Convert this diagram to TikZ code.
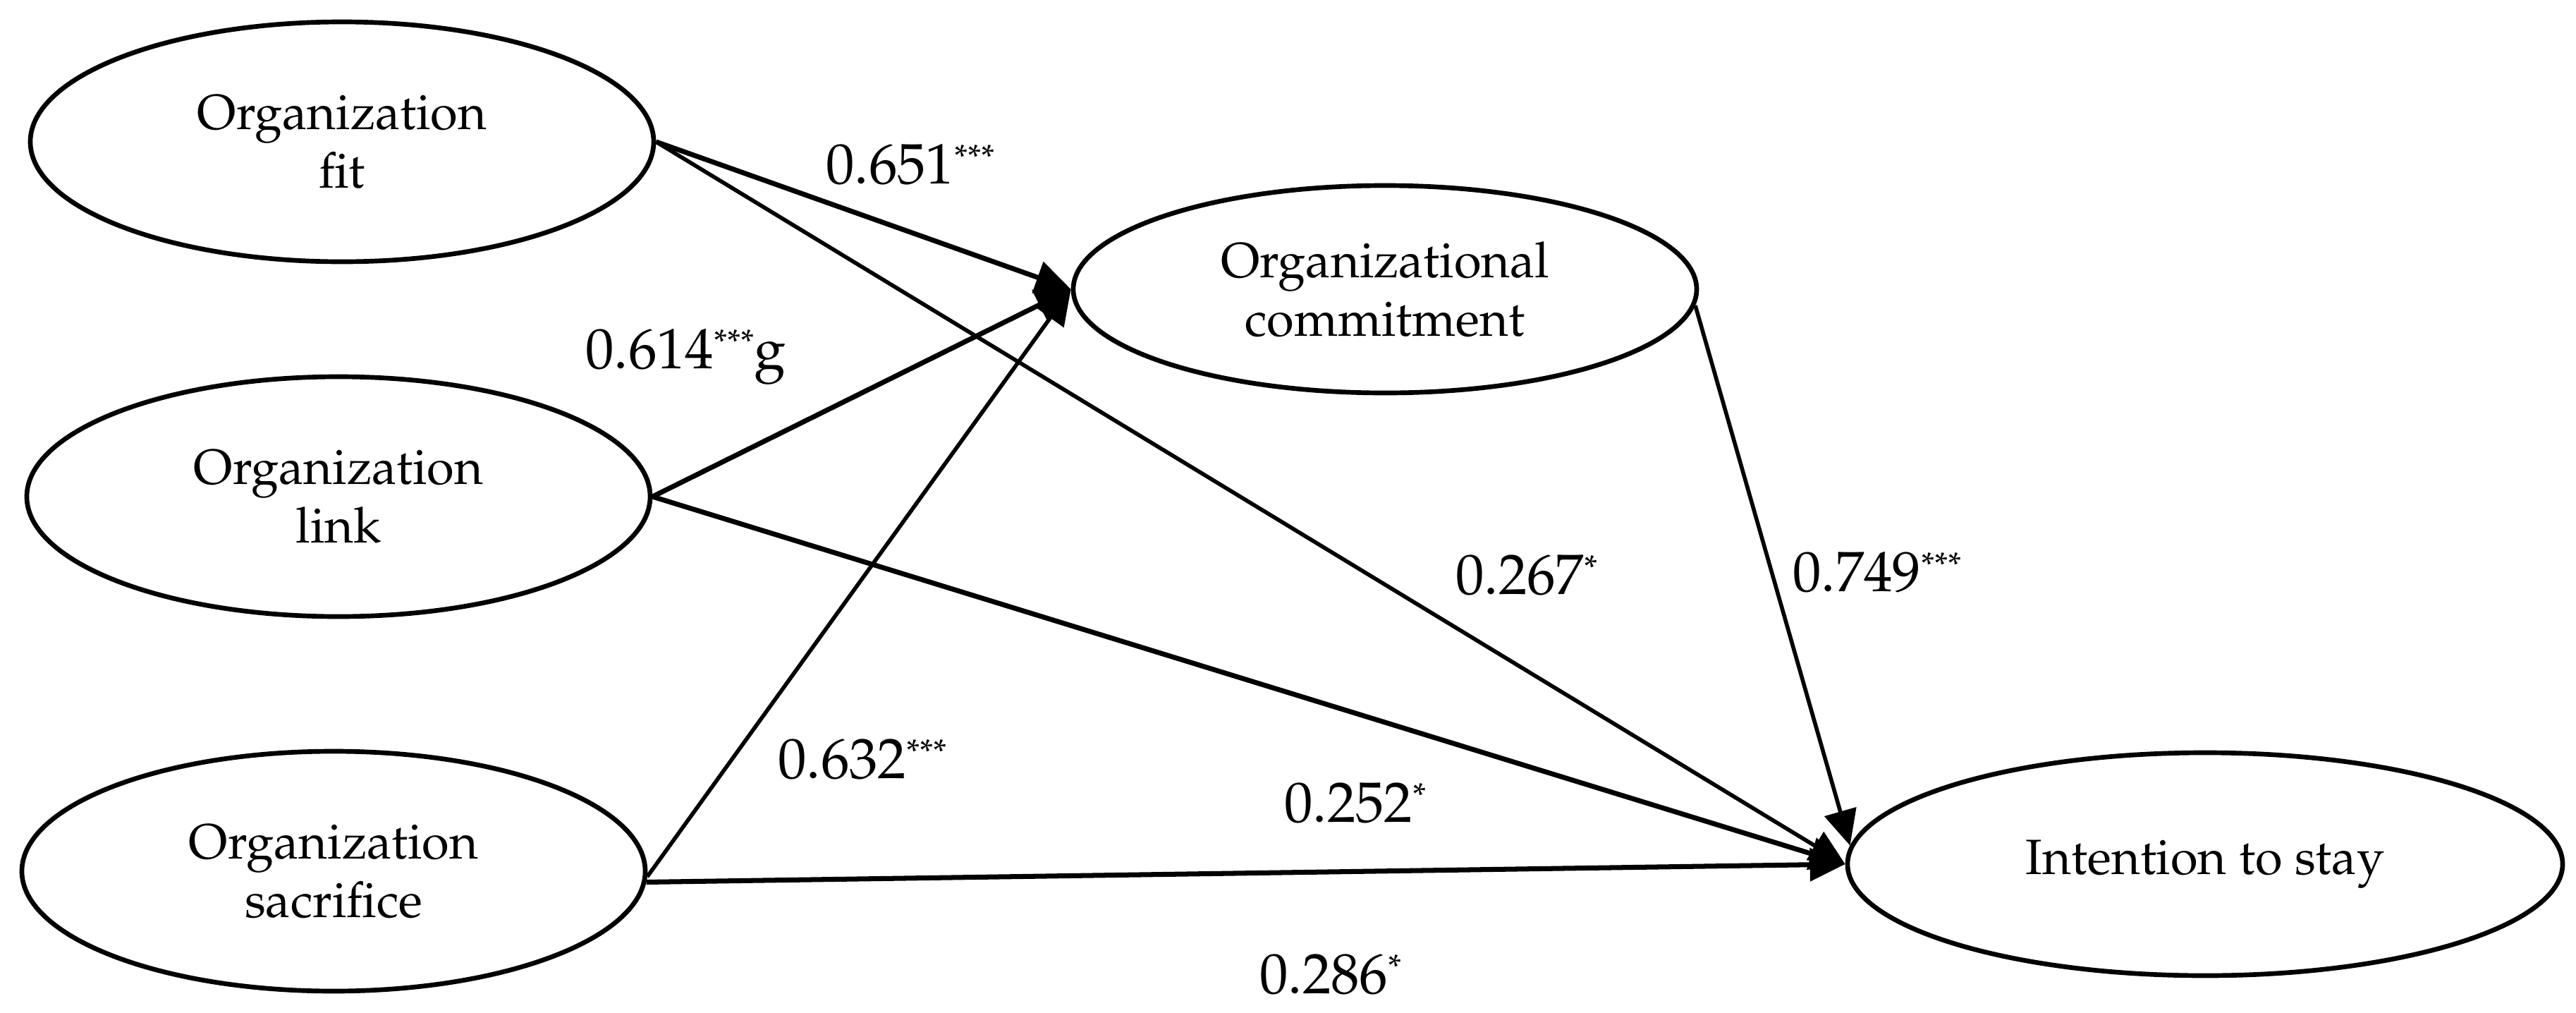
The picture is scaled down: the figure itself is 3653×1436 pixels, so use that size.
\documentclass[tikz,border=0pt]{standalone}
\usepackage[T1]{fontenc}
\usepackage{mathpazo}
\usetikzlibrary{shapes.geometric, arrows.meta}
\tikzset{
    ->,  % every connector is a directed path
    >={Triangle[length=2.5mm, width=2.3mm]}, % large filled heads as in the sketch
    x=0.05mm, y=-0.05mm, % one unit is one pixel of the sketch, y runs downwards
    font=\fontsize{10}{11.8}\selectfont, % text inside the ellipses
    }
\newcommand{\signif}[1]{\raisebox{0.55ex}{\fontsize{7}{7}\selectfont #1}} % small stars next to a coefficient

\begin{document}
\begin{tikzpicture}[latent/.style={ellipse, draw, line width=0.95pt, minimum width=4.42cm, minimum height=1.7cm, inner sep=0pt, align=center}, coef/.style={anchor=base west, inner sep=0pt, font=\fontsize{11.5}{13}\selectfont}, heavy/.style={draw, line width=1pt}, light/.style={draw, line width=0.8pt}]
\useasboundingbox (0,0) rectangle (3653,1436);
\node[latent] (fit) at (485,201) {Organization\\fit};
\node[latent] (link) at (480,704) {Organization\\link};
\node[latent] (sac) at (473,1235) {Organization\\sacrifice};
\node[latent, minimum height=1.47cm] (comm) at (1964,410) {Organizational\\commitment};
\node[latent, minimum width=5.07cm, minimum height=1.58cm] (stay) at (3127,1225) {Intention to stay};

\node[coef] (b651) at (1170,260) {0.651\signif{***}};
\node[coef] (b614) at (829,522) {0.614\signif{***}g};
\node[coef] (b267) at (2063,842) {0.267\signif{*}};
\node[coef] (b749) at (2541,838) {0.749\signif{***}};
\node[coef] (b632) at (1102,1103) {0.632\signif{***}};
\node[coef] (b252) at (1820,1165) {0.252\signif{*}};
\node[coef] (b286) at (1785,1408) {0.286\signif{*}};

\path (fit.east) edge[heavy] (comm.west)
(fit.east) edge[light] (stay.west)
(link.east) edge[heavy] (comm.west)
(link.east) edge[heavy] (stay.west)
(sac.359) edge[light] (comm.west)
(sac.358) edge[heavy] (stay.west)
(comm.357) edge[light] (stay.177);
\end{tikzpicture}
\end{document}
